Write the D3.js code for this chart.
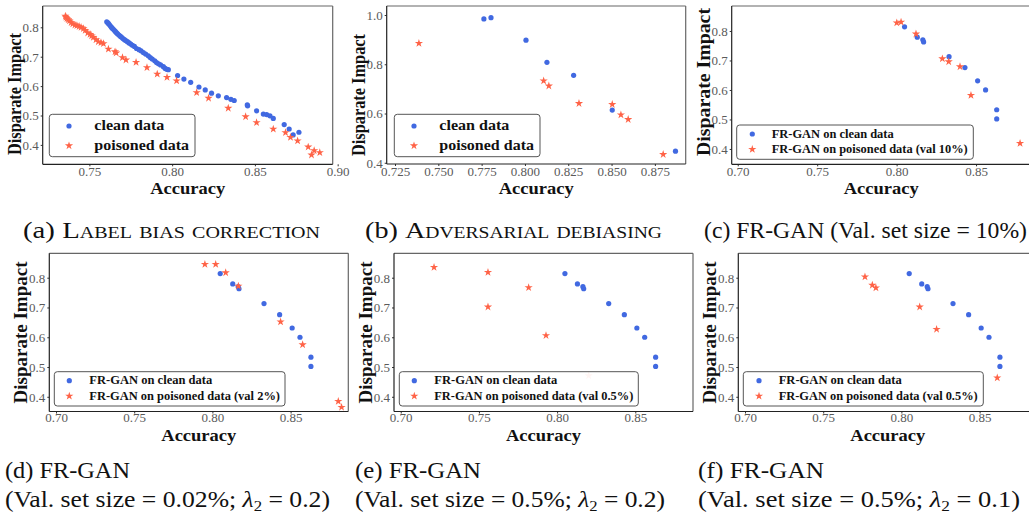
<!DOCTYPE html>
<html><head><meta charset="utf-8">
<script src="https://cdn.jsdelivr.net/npm/d3@7"></script>
<style>body{margin:0;background:#fff} svg{display:block} svg text{font-family:"Liberation Serif","Times New Roman",Times,serif}</style>
</head><body><svg id="chart" width="1029" height="514"></svg>
<script>
// ---------------- DATA ----------------
const labelBiasClean = [[0.7605,0.819],[0.7612,0.815],[0.7618,0.811],[0.7625,0.806],[0.7632,0.801],[0.7638,0.797],[0.7645,0.793],[0.7652,0.789],[0.7658,0.785],[0.7665,0.781],[0.7672,0.777],[0.7680,0.773],[0.7688,0.769],[0.7695,0.766],[0.7703,0.762],[0.7712,0.758],[0.7720,0.755],[0.7730,0.751],[0.7740,0.747],[0.7750,0.743],[0.7760,0.739],[0.7772,0.735],[0.7785,0.728],[0.7800,0.724],[0.7812,0.720],[0.7826,0.714],[0.7840,0.709],[0.7856,0.703],[0.7868,0.697],[0.7880,0.692],[0.7895,0.686],[0.7906,0.680],[0.7918,0.676],[0.7930,0.672],[0.7947,0.666],[0.7958,0.660],[0.7967,0.657],[0.7977,0.656],[0.8033,0.636],[0.8071,0.624],[0.8112,0.613],[0.8162,0.597],[0.8200,0.587],[0.8238,0.576],[0.8279,0.567],[0.8329,0.561],[0.8355,0.555],[0.8375,0.551],[0.8454,0.536],[0.8456,0.533],[0.8510,0.516],[0.8551,0.505],[0.8571,0.503],[0.8591,0.499],[0.8611,0.490],[0.8677,0.469],[0.8707,0.454],[0.8731,0.434],[0.8766,0.443]];
const labelBiasPoisoned = [[0.7355,0.838],[0.7359,0.834],[0.7365,0.830],[0.7372,0.826],[0.7380,0.822],[0.7390,0.816],[0.7400,0.812],[0.7413,0.808],[0.7425,0.806],[0.7438,0.803],[0.7450,0.800],[0.7464,0.796],[0.7475,0.790],[0.7490,0.781],[0.7504,0.776],[0.7514,0.771],[0.7524,0.766],[0.7540,0.758],[0.7554,0.751],[0.7570,0.748],[0.7585,0.745],[0.7615,0.726],[0.7655,0.717],[0.7662,0.713],[0.7700,0.697],[0.7721,0.689],[0.7782,0.681],[0.7848,0.663],[0.7910,0.641],[0.7969,0.630],[0.8027,0.618],[0.8148,0.578],[0.8220,0.559],[0.8339,0.525],[0.8444,0.496],[0.8510,0.476],[0.8611,0.454],[0.8685,0.442],[0.8715,0.426],[0.8758,0.414],[0.8822,0.393],[0.8842,0.366],[0.8858,0.381],[0.8892,0.374]];
const advClean = [[0.7763,0.984],[0.7804,0.989],[0.8006,0.898],[0.8127,0.808],[0.8281,0.755],[0.8504,0.614],[0.8869,0.447]];
const advPoisoned = [[0.7388,0.885],[0.8108,0.733],[0.8138,0.712],[0.8312,0.641],[0.8504,0.637],[0.8554,0.595],[0.8596,0.576],[0.8798,0.434]];
const frganClean = [[0.805,0.814],[0.813,0.779],[0.8165,0.770],[0.817,0.763],[0.833,0.713],[0.843,0.676],[0.851,0.631],[0.856,0.600],[0.863,0.533],[0.863,0.502]];
const frganPoisonedVal10 = [[0.8001,0.828],[0.8028,0.8305],[0.8122,0.790],[0.8288,0.706],[0.8328,0.696],[0.8399,0.679],[0.8468,0.582],[0.8777,0.419]];
const frganPoisonedVal2 = [[0.7952,0.845],[0.8021,0.845],[0.8085,0.817],[0.8166,0.772],[0.8436,0.652],[0.8577,0.575],[0.8805,0.385],[0.8826,0.365]];
const frganPoisonedVal05L02 = [[0.7213,0.835],[0.7558,0.818],[0.7558,0.702],[0.7818,0.767],[0.7929,0.606]];
const frganPoisonedVal05L02Faded = [[0.8202,0.471]];
const frganPoisonedVal05L01 = [[0.7767,0.803],[0.7814,0.775],[0.7837,0.766],[0.8117,0.702],[0.8225,0.627],[0.8613,0.464]];

const xTicksA = [0.75,0.80,0.85,0.90];
const yTicksA = [0.4,0.5,0.6,0.7,0.8];
const xTicksB = [0.725,0.750,0.775,0.800,0.825,0.850,0.875];
const yTicksB = [0.4,0.6,0.8,1.0];
const xTicksFR = [0.70,0.75,0.80,0.85];
const yTicksFR = [0.4,0.5,0.6,0.7,0.8];

const legendA = ["clean data","poisoned data"];
const legendC = ["FR-GAN on clean data","FR-GAN on poisoned data (val 10%)"];
const legendD = ["FR-GAN on clean data","FR-GAN on poisoned data (val 2%)"];
const legendE = ["FR-GAN on clean data","FR-GAN on poisoned data (val 0.5%)"];
const xLabel = "Accuracy", yLabel = "Disparate Impact";

// ---------------- STYLE / LAYOUT ----------------
const BLUE = "#4169E1", RED = "#FF6347";
const svg = d3.select("#chart");

const panels = [
  {id:"a", x0:42.7,x1:332.7,y0:6,y1:164.3, xd:[0.7218,0.897], yd:[0.334,0.8725], xt:xTicksA, xf:".2f", yt:yTicksA, yf:".1f",
   clean:labelBiasClean, pois:labelBiasPoisoned, faded:[],
   leg:{labels:legendA, box:[49.3,114.3,145.7,42.4], mx:69, rows:[126,145.7], tx:94.3, fs:15, tl:[70,94.7], off:4},
   ylab:{cy:94, len:122, fs:18}, row:1},
  {id:"b", x0:386.7,x1:685.7,y0:6,y1:164, xd:[0.7202,0.8928], yd:[0.395,1.0366], xt:xTicksB, xf:".3f", yt:yTicksB, yf:".1f",
   clean:advClean, pois:advPoisoned, faded:[],
   leg:{labels:legendA, box:[394.3,114.3,145.7,42.4], mx:414, rows:[126,145.7], tx:439.3, fs:15, tl:[70,94.7], off:4},
   ylab:{cy:95, len:122, fs:18}, row:1},
  {id:"c", x0:731.7,x1:1030.7,y0:6,y1:164.3, xd:[0.6962,0.8844], yd:[0.348,0.8847], xt:xTicksFR, xf:".2f", yt:yTicksFR, yf:".1f",
   clean:frganClean, pois:frganPoisonedVal10, faded:[],
   leg:{labels:legendC, box:[736.7,125,236.6,34.3], mx:752.3, rows:[134,149.3], tx:771.7, fs:11.5, tl:[122,196], off:3.7},
   ylab:{cy:82, len:148, fs:19}, row:1},
  {id:"d", x0:49.3,x1:348.3,y0:253.3,y1:411.5, xd:[0.6957,0.8869], yd:[0.3506,0.882], xt:xTicksFR, xf:".2f", yt:yTicksFR, yf:".1f",
   clean:frganClean, pois:frganPoisonedVal2, faded:[],
   leg:{labels:legendD, box:[54.3,371.7,230.7,34.3], mx:69.3, rows:[380.7,396], tx:89.3, fs:11.5, tl:[123,190.7], off:3.7},
   ylab:{cy:332.5, len:142, fs:19}, row:2},
  {id:"e", x0:394,x1:693,y0:253.3,y1:411.5, xd:[0.6957,0.8869], yd:[0.3506,0.882], xt:xTicksFR, xf:".2f", yt:yTicksFR, yf:".1f",
   clean:frganClean, pois:frganPoisonedVal05L02, faded:frganPoisonedVal05L02Faded,
   leg:{labels:legendE, box:[399.3,371.7,239,34.3], mx:414.3, rows:[380.7,396], tx:434.3, fs:11.5, tl:[123,199], off:3.7},
   ylab:{cy:332.5, len:142, fs:19}, row:2},
  {id:"f", x0:738.3,x1:1037.3,y0:253.3,y1:411.5, xd:[0.6957,0.8869], yd:[0.3506,0.882], xt:xTicksFR, xf:".2f", yt:yTicksFR, yf:".1f",
   clean:frganClean, pois:frganPoisonedVal05L01, faded:[],
   leg:{labels:legendE, box:[743.3,371.7,240,34.3], mx:759, rows:[380.7,396], tx:778.7, fs:11.5, tl:[123,199], off:3.7},
   ylab:{cy:332.5, len:142, fs:19}, row:2}
];

const star = d3.symbol().type(d3.symbolStar).size(21);

panels.forEach(p => {
  const g = svg.append("g");
  const x = d3.scaleLinear().domain(p.xd).range([p.x0, p.x1]);
  const y = d3.scaleLinear().domain(p.yd).range([p.y1, p.y0]);
  const clipId = "clip-" + p.id;
  svg.append("clipPath").attr("id", clipId).append("rect")
    .attr("x", p.x0).attr("y", p.y0).attr("width", p.x1 - p.x0).attr("height", p.y1 - p.y0);

  // axes
  const xa = g.append("g").attr("transform", `translate(0,${p.y1})`)
    .call(d3.axisBottom(x).tickValues(p.xt).tickFormat(d3.format(p.xf)).tickSize(2).tickPadding(0));
  const ya = g.append("g").attr("transform", `translate(${p.x0},0)`)
    .call(d3.axisLeft(y).tickValues(p.yt).tickFormat(d3.format(p.yf)).tickSize(2).tickPadding(2));
  [xa, ya].forEach(a => {
    a.attr("font-family", null);
    a.select(".domain").remove();
    a.selectAll(".tick line").attr("stroke", "#333");
    a.selectAll(".tick text").attr("font-size", 13).attr("fill", "#5a5a5a");
  });
  xa.selectAll(".tick text").attr("dy", null).attr("y", p.row === 1 ? 11.6 : 10.4);
  ya.selectAll(".tick text").attr("dy", "0.33em");

  // points
  const pg = g.append("g").attr("clip-path", `url(#${clipId})`);
  pg.selectAll("circle.clean").data(p.clean).join("circle").attr("class", "clean")
    .attr("cx", d => x(d[0])).attr("cy", d => y(d[1])).attr("r", 2.6).attr("fill", BLUE);
  pg.selectAll("path.pois").data(p.pois).join("path").attr("class", "pois")
    .attr("d", star).attr("transform", d => `translate(${x(d[0])},${y(d[1])})`).attr("fill", RED);
  pg.selectAll("path.faded").data(p.faded).join("path").attr("class", "faded")
    .attr("d", star).attr("transform", d => `translate(${x(d[0])},${y(d[1])})`).attr("fill", RED).attr("opacity", 0.45);

  // spines
  g.append("line").attr("x1", p.x0).attr("x2", p.x1).attr("y1", p.y0).attr("y2", p.y0).attr("stroke", "#666").attr("stroke-width", 1.2);
  g.append("line").attr("x1", p.x1).attr("x2", p.x1).attr("y1", p.y0).attr("y2", p.y1).attr("stroke", "#666").attr("stroke-width", 1.2);
  g.append("line").attr("x1", p.x0).attr("x2", p.x1).attr("y1", p.y1).attr("y2", p.y1).attr("stroke", "#222").attr("stroke-width", 1.2);
  g.append("line").attr("x1", p.x0).attr("x2", p.x0).attr("y1", p.y0).attr("y2", p.y1).attr("stroke", "#222").attr("stroke-width", 1.2);

  // legend
  const L = p.leg;
  g.append("rect").attr("x", L.box[0]).attr("y", L.box[1]).attr("width", L.box[2]).attr("height", L.box[3])
    .attr("rx", 3).attr("fill", "#fff").attr("fill-opacity", 0.85).attr("stroke", "#555").attr("stroke-width", 1);
  g.append("circle").attr("cx", L.mx).attr("cy", L.rows[0]).attr("r", 2.6).attr("fill", BLUE);
  g.append("path").attr("d", star).attr("transform", `translate(${L.mx},${L.rows[1]})`).attr("fill", RED);
  L.labels.forEach((t, i) => {
    g.append("text").attr("x", L.tx).attr("y", L.rows[i] + L.off).text(t)
      .attr("font-weight", "bold").attr("font-size", L.fs).attr("fill", "#111")
      .attr("textLength", L.tl[i]).attr("lengthAdjust", "spacingAndGlyphs");
  });

  // axis labels
  g.append("text").attr("x", (p.x0 + p.x1) / 2).attr("y", p.y1 + 29.5).attr("text-anchor", "middle").text(xLabel)
    .attr("font-weight", "bold").attr("font-size", 16.5).attr("fill", "#111")
    .attr("textLength", 75).attr("lengthAdjust", "spacingAndGlyphs");
  const ylx = p.x0 - 22;
  g.append("text").attr("transform", `translate(${ylx},${p.ylab.cy}) rotate(-90)`).attr("text-anchor", "middle").text(yLabel)
    .attr("font-weight", "bold").attr("font-size", p.ylab.fs).attr("fill", "#111")
    .attr("textLength", p.ylab.len).attr("lengthAdjust", "spacingAndGlyphs");
});

// ---------------- CAPTIONS ----------------
const captionsTop = ["(a) Label bias correction", "(b) Adversarial debiasing", "(c) FR-GAN (Val. set size = 10%)"];
const captionsBottom = ["(d) FR-GAN", "(e) FR-GAN", "(f) FR-GAN"];
const captionsSub = [["(Val. set size = 0.02%; ", "0.2)"], ["(Val. set size = 0.5%; ", "0.2)"], ["(Val. set size = 0.5%; ", "0.1)"]];

const topPos = [{x:23, w:297, sc:true}, {x:365, w:297, sc:true}, {x:704, w:323, sc:false}];
captionsTop.forEach((c, i) => {
  const t = svg.append("text").attr("x", topPos[i].x).attr("y", 238)
    .attr("font-size", 23).attr("fill", "#111")
    .attr("textLength", topPos[i].w).attr("lengthAdjust", "spacingAndGlyphs");
  if (topPos[i].sc) {
    const idx = c.indexOf(" ");
    t.append("tspan").text(c.slice(0, idx + 1));
    t.append("tspan").style("font-variant", "small-caps").text(c.slice(idx + 1));
  } else {
    t.text(c);
  }
});
const botPos = [{x:5, w1:125, w2:325}, {x:355, w1:126, w2:310}, {x:698, w1:126, w2:322}];
captionsBottom.forEach((c, i) => {
  svg.append("text").attr("x", botPos[i].x).attr("y", 478).text(c)
    .attr("font-size", 23).attr("fill", "#111")
    .attr("textLength", botPos[i].w1).attr("lengthAdjust", "spacingAndGlyphs");
  const t = svg.append("text").attr("x", botPos[i].x).attr("y", 507)
    .attr("font-size", 23).attr("fill", "#111")
    .attr("textLength", botPos[i].w2).attr("lengthAdjust", "spacingAndGlyphs");
  t.append("tspan").text(captionsSub[i][0]);
  t.append("tspan").attr("font-style", "italic").text("λ");
  t.append("tspan").attr("font-size", 15).attr("dy", 4).text("2");
  t.append("tspan").attr("dy", -4).text(" = " + captionsSub[i][1]);
});
</script></body></html>
